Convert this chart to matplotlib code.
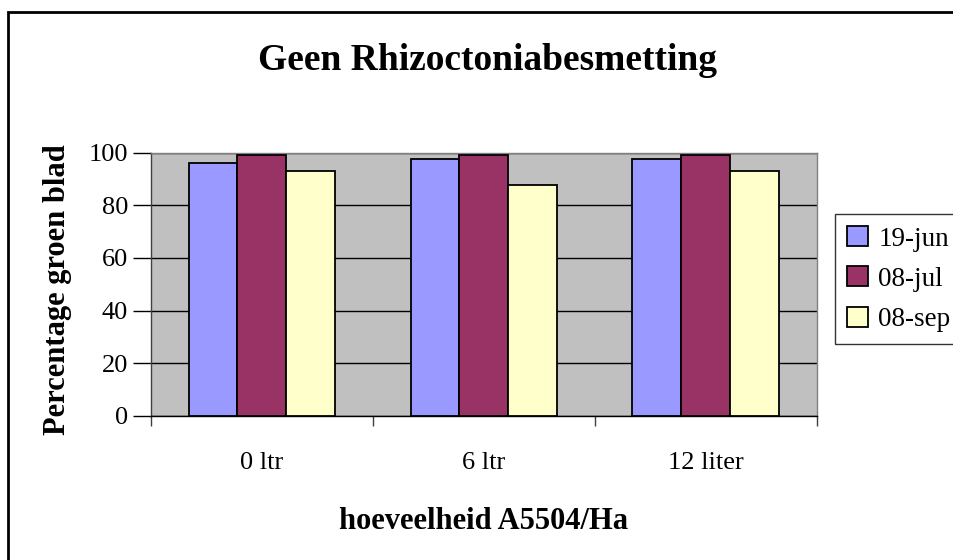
import matplotlib
matplotlib.use("Agg")
import matplotlib.pyplot as plt
from matplotlib.patches import Rectangle
import numpy as np

# chart data
categories = ["0 ltr", "6 ltr", "12 liter"]
series_names = ["19-jun", "08-jul", "08-sep"]
jun19 = [96, 97.5, 97.5]
jul08 = [99, 99, 99]
sep08 = [93, 87.5, 93]
yticks = [0, 20, 40, 60, 80, 100]

colors = ["#9999FF", "#993366", "#FFFFCC"]

plt.rcParams["font.family"] = ["Liberation Serif", "DejaVu Serif"]

W, H = 954, 560
fig = plt.figure(figsize=(W / 100, H / 100), dpi=100)
fig.patch.set_facecolor("white")

# outer chart frame (cut off at right and bottom like the reference)
fig.patches.append(Rectangle((8 / W, -0.2), 1.5, 1.2 - 12 / H,
                             transform=fig.transFigure, fill=False,
                             ec="black", lw=2))

left, right, top, bottom = 150.8, 816.7, 152.5, 416
ax = fig.add_axes([left / W, 1 - bottom / H, (right - left) / W,
                   (bottom - top) / H])
ax.set_facecolor("#C0C0C0")

x = np.arange(len(categories))
width = 0.22
for i, (name, vals) in enumerate(zip(series_names, [jun19, jul08, sep08])):
    ax.bar(x + (i - 1) * width, vals, width, color=colors[i],
           edgecolor="black", linewidth=1.3, label=name, zorder=3)

ax.set_xlim(-0.5, len(categories) - 0.5)
ax.set_ylim(0, 100)
ax.set_yticks(yticks)
ax.set_yticklabels([str(v) for v in yticks], fontsize=19)
ax.yaxis.grid(True, color="black", linewidth=1, zorder=1)
ax.set_axisbelow(True)

# category boundary ticks, labels centred in each category
ax.set_xticks(np.arange(len(categories) + 1) - 0.5)
ax.set_xticklabels([""] * (len(categories) + 1))
ax.set_xticks(x, minor=True)
ax.set_xticklabels(categories, minor=True, fontsize=19)
ax.tick_params(axis="x", which="minor", length=0, pad=26)
ax.tick_params(axis="x", which="major", length=7.5, width=1, color="#404040")
ax.tick_params(axis="y", length=13, width=1, pad=3.5, color="black")

for s in ["top", "right"]:
    ax.spines[s].set_color("#808080")
ax.spines["left"].set_color("#404040")
ax.spines["bottom"].set_color("black")
for s in ax.spines.values():
    s.set_linewidth(1)

ax.set_ylabel("Percentage groen blad", fontsize=22, fontweight="bold")
ax.yaxis.set_label_coords(-0.118, 0.48)
ax.set_xlabel("hoeveelheid A5504/Ha", fontsize=22, fontweight="bold")
ax.xaxis.set_label_coords(0.5, -0.345)

fig.text(488 / W, 1 - 60 / H, "Geen Rhizoctoniabesmetting", fontsize=27,
         fontweight="bold", ha="center", va="center")

leg = fig.legend(loc="upper left", bbox_to_anchor=(835 / W, 1 - 214 / H),
                 bbox_transform=fig.transFigure, borderaxespad=0,
                 fontsize=19.5, frameon=True, fancybox=False,
                 handlelength=0.78, handleheight=0.75, handletextpad=0.37,
                 labelspacing=0.55, borderpad=0.45)
leg.get_frame().set_edgecolor("black")
leg.get_frame().set_linewidth(1)

fig.savefig("out.png", dpi=100)
